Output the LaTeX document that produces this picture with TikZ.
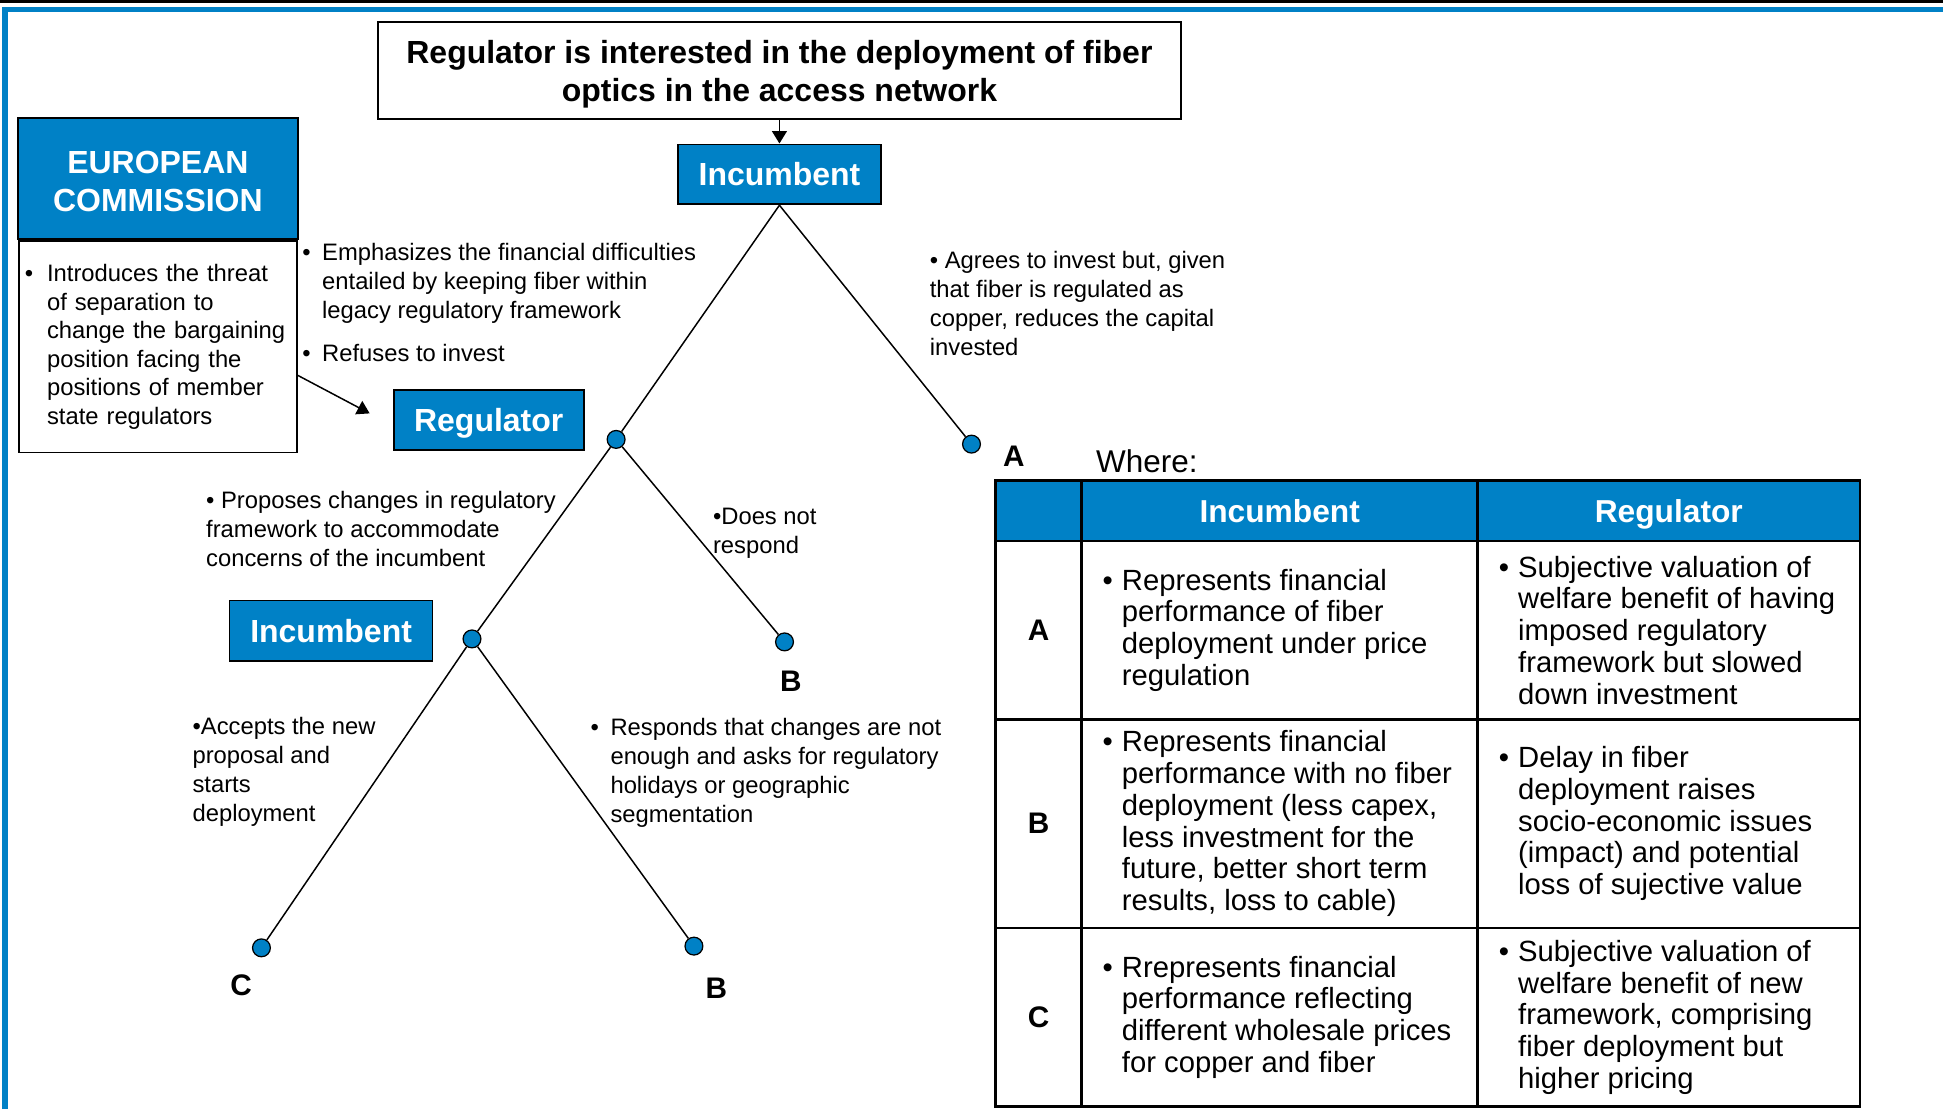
\documentclass[tikz,border=0pt]{standalone}
\usepackage{fontspec}
\setmainfont{Liberation Sans}
\usepackage{tikz}
\usetikzlibrary{shapes,arrows.meta,positioning,calc}
\definecolor{ecblue}{RGB}{0,129,198}
\newcommand{\bul}[1][8pt]{\makebox[#1][l]{\textbullet}}
\newcommand{\ind}[1][8pt]{\hspace*{#1}}

\begin{document}
\begin{tikzpicture}[x=0.5pt,y=-0.5pt,
    bluebox/.style={draw=black,fill=ecblue,text=white,line width=0.7pt,inner sep=0pt,
      font=\fontsize{12.9}{15.5}\selectfont\bfseries,align=center},
    note/.style={anchor=base west,align=left,inner sep=0pt,font=\fontsize{9.6}{11.7}\selectfont},
    cell/.style={anchor=west,align=left,inner sep=0pt,font=\fontsize{11.8}{12.8}\selectfont},
    outcome/.style={inner sep=0pt,font=\fontsize{12}{14}\selectfont\bfseries},
    leaf/.style={circle,draw=black,fill=ecblue,line width=0.5pt,inner sep=0pt,minimum size=7.2pt},
    branch/.style={line width=0.6pt},
    tip/.style={line width=0.6pt,-{Triangle[length=5pt,width=6pt]}},
    tabline/.style={line width=1pt}]

\useasboundingbox (0,0) rectangle (1568,895);

% frame
\draw[line width=1.35pt] (0,1.3) -- (1568,1.3);
\draw[ecblue,line width=2.3pt] (4.3,895) -- (4.3,7.7) -- (1568,7.7);

% game tree
\node[draw,line width=0.7pt,minimum width=324pt,minimum height=39.4pt,align=center,
      font=\fontsize{12.9}{15}\selectfont\bfseries] (title) at (629,56.9)
      {\rule{0pt}{12.4pt}Regulator is interested in the deployment of fiber\\optics in the access network};
\node[bluebox,minimum width=82pt,minimum height=24.2pt] (inc1) at (629,140.7) {Incumbent};
\node[bluebox,minimum width=113pt,minimum height=49pt] (ec) at (127.4,144) {\rule{0pt}{11.3pt}EUROPEAN\\COMMISSION};
\node[draw,line width=0.7pt,below=0pt of ec,minimum width=112pt,minimum height=85.4pt,
      text width=107.4pt,inner xsep=2.3pt,inner ysep=0pt,align=left,
      font=\fontsize{9.6}{11.5}\selectfont] (ecnote)
      {\bul[9pt]Introduces the threat\\\ind[9pt]of separation to\\\ind[9pt]change the bargaining\\
       \ind[9pt]position facing the\\\ind[9pt]positions of member\\\ind[9pt]state regulators};
\node[bluebox,minimum width=76.6pt,minimum height=24.2pt,text depth=0pt] (reg) at (394.4,339) {Regulator};
\node[bluebox,minimum width=81.9pt,minimum height=24.3pt] (inc2) at (267.2,508.9) {Incumbent};

\node[leaf] (n1) at (497.2,354.6) {};
\node[leaf] (leafA) at (784,358.4) {};
\node[leaf] (n2) at (380.9,515.6) {};
\node[leaf] (leafB1) at (633.1,518) {};
\node[leaf] (leafC) at (211,764.9) {};
\node[leaf] (leafB2) at (560,763.5) {};

\node[outcome] (lblA) at (818.2,368) {A};
\node[outcome] (lblB1) at (638.3,549.6) {B};
\node[outcome] (lblC) at (194.6,795) {C};
\node[outcome] (lblB2) at (578,797.6) {B};

\coordinate (regtip) at (298.3,333.6);
\draw[tip] (title) -- (inc1);
\draw[tip] ([yshift=-11.5pt]ecnote.east) -- (regtip);
\foreach \a/\b in {inc1.south/n1,inc1.south/leafA,n1/n2,n1/leafB1,n2/leafC,n2/leafB2}
  \draw[branch] (\a) -- (\b);

% notes, placed by the baseline of their last line
\node[note] (emph) at (243.6,257.4) {\bul Emphasizes the financial difficulties\\\ind entailed by keeping fiber within\\\ind legacy regulatory framework};
\node[note] (refuse) at (243.6,292) {\bul Refuses to invest};
\node[note] (agree) at (750,286.7) {\textbullet\ Agrees to invest but, given\\that fiber is regulated as\\copper, reduces the capital\\invested};
\node[note] (propose) at (166,457) {\textbullet\ Proposes changes in regulatory\\framework to accommodate\\concerns of the incumbent};
\node[note] (noresp) at (575,446.4) {\textbullet Does not\\respond};
\node[note] (accept) at (155,662.9) {\textbullet Accepts the new\\proposal and\\starts\\deployment};
\node[note] (respond) at (476.3,663.6) {\bul Responds that changes are not\\\ind enough and asks for regulatory\\\ind holidays or geographic\\\ind segmentation};

% payoff table
\node[anchor=base west,inner sep=0pt,font=\fontsize{12.7}{15}\selectfont] (where) at (884.2,381) {Where:};
\fill[ecblue] (803.4,387.8) rectangle (1500.9,436.4);
\draw[tabline] (803.4,387.8) rectangle (1500.9,893);
\foreach \yy in {436.4,580.6,748.7}
  \draw[tabline] (803.4,\yy) -- (1500.9,\yy);
\foreach \xx in {872.8,1192.5}
  \draw[tabline] (\xx,387.8) -- (\xx,893);
\node[text=white,inner sep=0pt,text depth=0pt,font=\fontsize{12.8}{15}\selectfont\bfseries] (hinc) at (1032.7,412.1) {Incumbent};
\node[text=white,inner sep=0pt,text depth=0pt,font=\fontsize{12.8}{15}\selectfont\bfseries] (hreg) at (1346.7,412.1) {Regulator};
\foreach \r/\yc in {A/508.5,B/664.7,C/820.9}
  \node[outcome] (row\r) at (838.1,\yc) {\r};

\node[cell] (incA) at (889.4,508.5) {\bul[7.8pt]Represents financial\\\ind[7.8pt]performance of fiber\\\ind[7.8pt]deployment under price\\\ind[7.8pt]regulation};
\node[cell] (regA) at (1209.2,508.5) {\bul[7.8pt]Subjective valuation of\\\ind[7.8pt]welfare benefit of having\\\ind[7.8pt]imposed regulatory\\\ind[7.8pt]framework but slowed\\\ind[7.8pt]down investment};
\node[cell] (incB) at (889.4,664.7) {\bul[7.8pt]Represents financial\\\ind[7.8pt]performance with no fiber\\\ind[7.8pt]deployment (less capex,\\\ind[7.8pt]less investment for the\\\ind[7.8pt]future, better short term\\\ind[7.8pt]results, loss to cable)};
\node[cell] (regB) at (1209.2,664.7) {\bul[7.8pt]Delay in fiber\\\ind[7.8pt]deployment raises\\\ind[7.8pt]socio-economic issues\\\ind[7.8pt](impact) and potential\\\ind[7.8pt]loss of sujective value};
\node[cell] (incC) at (889.4,820.9) {\bul[7.8pt]Rrepresents financial\\\ind[7.8pt]performance reflecting\\\ind[7.8pt]different wholesale prices\\\ind[7.8pt]for copper and fiber};
\node[cell] (regC) at (1209.2,820.9) {\bul[7.8pt]Subjective valuation of\\\ind[7.8pt]welfare benefit of new\\\ind[7.8pt]framework, comprising\\\ind[7.8pt]fiber deployment but\\\ind[7.8pt]higher pricing};
\end{tikzpicture}
\end{document}
